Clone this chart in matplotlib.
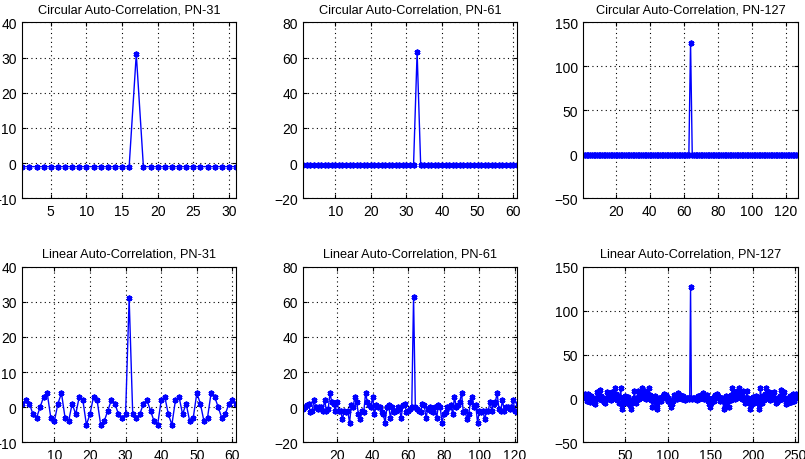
import matplotlib
matplotlib.use('Agg')
import matplotlib.pyplot as plt
import numpy as np

plt.rcParams['font.family'] = ['Liberation Sans', 'DejaVu Sans']

# ---------------- data ----------------
circ31 = [-1, -1, -1, -1, -1, -1, -1, -1, -1, -1,
          -1, -1, -1, -1, -1, -1, 31, -1, -1, -1,
          -1, -1, -1, -1, -1, -1, -1, -1, -1, -1,
          -1]

circ61 = [-1, -1, -1, -1, -1, -1, -1, -1, -1, -1,
          -1, -1, -1, -1, -1, -1, -1, -1, -1, -1,
          -1, -1, -1, -1, -1, -1, -1, -1, -1, -1,
          -1, -1, 63, -1, -1, -1, -1, -1, -1, -1,
          -1, -1, -1, -1, -1, -1, -1, -1, -1, -1,
          -1, -1, -1, -1, -1, -1, -1, -1, -1, -1,
          -1, -1, -1]

circ127 = [-1, -1, -1, -1, -1, -1, -1, -1, -1, -1,
           -1, -1, -1, -1, -1, -1, -1, -1, -1, -1,
           -1, -1, -1, -1, -1, -1, -1, -1, -1, -1,
           -1, -1, -1, -1, -1, -1, -1, -1, -1, -1,
           -1, -1, -1, -1, -1, -1, -1, -1, -1, -1,
           -1, -1, -1, -1, -1, -1, -1, -1, -1, -1,
           -1, -1, -1, 127, -1, -1, -1, -1, -1, -1,
           -1, -1, -1, -1, -1, -1, -1, -1, -1, -1,
           -1, -1, -1, -1, -1, -1, -1, -1, -1, -1,
           -1, -1, -1, -1, -1, -1, -1, -1, -1, -1,
           -1, -1, -1, -1, -1, -1, -1, -1, -1, -1,
           -1, -1, -1, -1, -1, -1, -1, -1, -1, -1,
           -1, -1, -1, -1, -1, -1, -1]

lin31 = [1, 2, 1, -2, -3, 0, 3, 4, -3, -4,
         1, 4, -3, -4, 1, -2, 3, 2, -5, -2,
         3, 2, -5, -4, -1, 2, 1, -2, -3, -2,
         31,
         -2, -3, -2, 1, 2, -1, -4, -5, 2,
         3, -2, -5, 2, 3, -2, 1, -4, -3, 4,
         1, -4, -3, 4, 3, 0, -3, -2, 1, 2,
         1]

lin61 = [-1, 0, 1, 2, -3, -2, 4, 0, -1, 0,
         0, -2, 4, -2, -1, 8, 3, 2, -2, 3,
         -2, -2, -7, -2, -3, -2, -9, 1, 0, 6,
         3, -4, -7, -2, -3, 8, 3, 1, 0, 6,
         -4, 1, 0, 0, -3, -4, -9, 0, 1, -6,
         0, -3, -2, 0, -1, -6, 1, 2, -3, -2,
         -1, 0,
         63,
         0, -1,
         -2, -3, 2, 1, -6, -1, 0, -2, -3, 0,
         -6, 1, 0, -9, -4, -3, 0, 0, 1, -4,
         6, 0, 1, 3, 8, -3, -2, -7, -4, 3,
         6, 0, 1, -9, -2, -3, -2, -7, -2, -2,
         3, -2, 2, 3, 8, -1, -2, 4, -2, 0,
         0, -1, 0, 4, -2, -3, 2, 1, 0, -1]

lin127 = [1, 2, 5, 0, -3, 2, 5, -1, -4, 3,
          1, -2, -5, -2, -6, 1, 7, 2, -1, 4,
          10, 3, -2, 1, -4, -1, -5, 0, 7, 2,
          -1, 4, 1, -2, 7, 3, 0, 12, 5, 1,
          -2, 3, -5, 2, 12, -12, -6, 1, -3, 3,
          -2, -5, 0, 2, -3, -8, -12, -5, -2, 1,
          8, -1, -5, 0, 8, 3, -1, 2, 5, 12,
          6, 0, 8, 3, -1, 6, 2, 12, 4, -2,
          1, -10, -3, 1, 3, -4, -7, -12, -2, 1,
          -1, -3, 2, 0, 3, 5, 1, 4, 2, -3,
          1, -2, -5, -10, -6, -3, 0, 4, 1, 3,
          -1, 6, 2, 0, 4, 1, -1, 3, 0, -2,
          1, -1, 0, 1, -1, 0,
          127,
          0, -1, 1, 0, -1, 1,
          -2, 0, 3, -1, 1, 4, 0, 2, 6, -1,
          3, 1, 4, 0, -3, -6, -10, -5, -2, 1,
          -3, 2, 4, 1, 5, 3, 0, 2, -3, -1,
          1, -2, -12, -7, -4, 3, 1, -3, -10, 1,
          -2, 4, 12, 2, 6, -1, 3, 8, 0, 6,
          12, 5, 2, -1, 3, 8, 0, -5, -1, 8,
          1, -2, -5, -12, -8, -3, 2, 0, -5, -2,
          3, -3, 1, -6, -12, 12, 2, -5, 3, -2,
          1, 5, 12, 0, 3, 7, -2, 1, 4, -1,
          2, 7, 0, -5, -1, -4, 1, -2, 3, 10,
          4, -1, 2, 7, 1, -6, -2, -5, -2, 1,
          3, -4, -1, 5, 2, -3, 0, 5, 2, 1]

titles = ['Circular Auto-Correlation, PN-31', 'Circular Auto-Correlation, PN-61',
          'Circular Auto-Correlation, PN-127', 'Linear Auto-Correlation, PN-31',
          'Linear Auto-Correlation, PN-61', 'Linear Auto-Correlation, PN-127']
series = [circ31, circ61, circ127, lin31, lin61, lin127]
xlims = [(1, 31), (1, 61), (1, 127), (1, 61), (1, 121), (1, 253)]
xticks = [[5, 10, 15, 20, 25, 30], [10, 20, 30, 40, 50, 60],
          [20, 40, 60, 80, 100, 120], [10, 20, 30, 40, 50, 60],
          [20, 40, 60, 80, 100, 120], [50, 100, 150, 200, 250]]
ylims = [(-10, 40), (-20, 80), (-50, 150), (-10, 40), (-20, 80), (-50, 150)]
yticks = [[-10, 0, 10, 20, 30, 40], [-20, 0, 20, 40, 60, 80], [-50, 0, 50, 100, 150],
          [-10, 0, 10, 20, 30, 40], [-20, 0, 20, 40, 60, 80], [-50, 0, 50, 100, 150]]

# ---------------- layout ----------------
W, H = 805, 460
lefts = [22.3, 303.3, 583.3]
widths = [213.7, 213.4, 214.5]
tops = [23.3, 267.7]
heights = [176.0, 175.6]

fig = plt.figure(figsize=(W / 100, H / 100), dpi=100)
fig.patch.set_facecolor('white')

for i, y in enumerate(series):
    r, c = divmod(i, 3)
    rect = [lefts[c] / W, 1 - (tops[r] + heights[r]) / H, widths[c] / W, heights[r] / H]
    ax = fig.add_axes(rect)
    x = np.arange(1, len(y) + 1)
    ax.plot(x, y, color='#0000ff', lw=1.0, marker=(6, 2, 0), ms=4.2, mew=1.3)
    ax.set_xlim(*xlims[i])
    ax.set_ylim(*ylims[i])
    ax.set_xticks(xticks[i])
    ax.set_yticks(yticks[i])
    ax.grid(True, linestyle=(0, (1, 3)), color='black', lw=0.8)
    ax.tick_params(direction='in', top=True, right=True, labelsize=10, length=3,
                   width=0.8, pad=4)
    for s in ax.spines.values():
        s.set_linewidth(0.8)
        s.set_color('black')
    ax.set_title(titles[i], fontsize=9.2, pad=7)

fig.savefig('out.png', dpi=100, facecolor='white')
